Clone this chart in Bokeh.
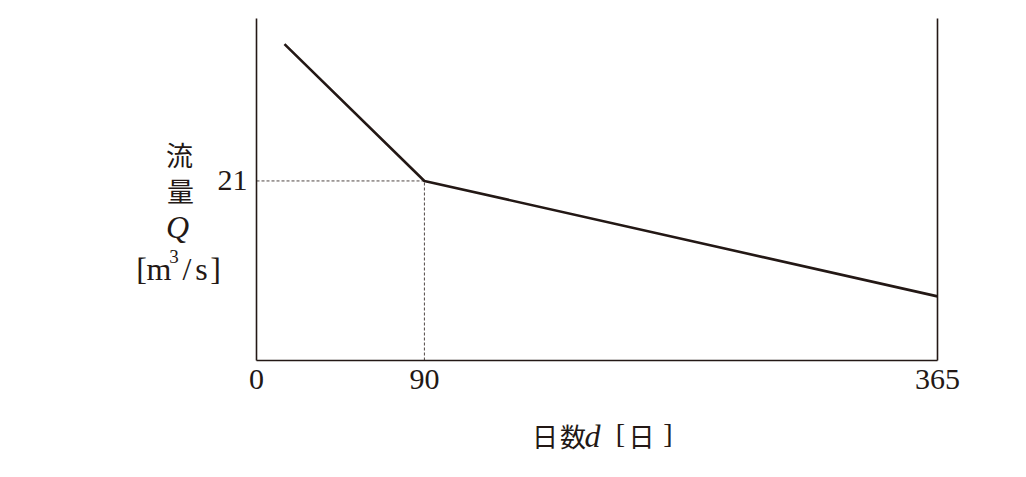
from bokeh.plotting import figure
from bokeh.models import FixedTicker, Label, Range1d, LinearAxis
from bokeh.embed import file_html
from bokeh.resources import INLINE

# data
days = [15, 90, 365]
flow = [37, 21, 7.5]
x_ticks = [0, 90, 365]
y_ticks = [21]
knee_day = 90
knee_flow = 21
x_max = 365
y_max = 40

INK = "#231815"
SERIF = "Liberation Serif"
CJK = "Noto Sans CJK JP"

# layout (page pixels): plot area spans x 256..937, y 18..360
W, H = 1018, 469
L, R, T, B = 256, 937, 18, 360
kx = (R - L) / x_max
ky = (B - T) / y_max

p = figure(width=W, height=H, output_backend="svg", toolbar_location=None,
           x_axis_type=None, y_axis_type=None, min_border=0,
           x_range=Range1d(-L / kx, x_max + (W - R) / kx),
           y_range=Range1d(-(H - B) / ky, y_max + T / ky))
p.outline_line_color = None
p.grid.visible = False
p.background_fill_color = "white"
p.border_fill_color = "white"

xaxis = LinearAxis(fixed_location=0, bounds=(0, x_max), ticker=FixedTicker(ticks=x_ticks))
yaxis = LinearAxis(fixed_location=0, bounds=(0, y_max), ticker=FixedTicker(ticks=y_ticks))
for ax in (xaxis, yaxis):
    ax.axis_line_color = INK
    ax.axis_line_width = 1.6
    ax.major_tick_line_color = None
    ax.minor_tick_line_color = None
    ax.major_label_text_font = SERIF
    ax.major_label_text_font_size = "30px"
    ax.major_label_text_color = INK
xaxis.major_label_standoff = 3
yaxis.major_label_standoff = 3
p.add_layout(xaxis, "below")
p.add_layout(yaxis, "left")

# right border line at 365
p.line([x_max, x_max], [0, y_max], line_color=INK, line_width=1.6)

# dashed guides
p.line([0, knee_day], [knee_flow, knee_flow], line_color=INK, line_width=0.8, line_dash="3 2")
p.line([knee_day, knee_day], [0, knee_flow], line_color=INK, line_width=0.8, line_dash="3 2")

# main curve
p.line(days, flow, line_color=INK, line_width=2.6)

def px2x(px):
    return (px - L) / kx

def px2y(py):
    return (B - py) / ky

def lab(text, px, py, font, size, style="normal"):
    p.add_layout(Label(x=px2x(px), y=px2y(py), text=text, text_font=font,
                       text_font_size=size, text_align="center", text_baseline="middle",
                       text_color=INK, text_font_style=style))

# y-axis label (vertical stack)
lab("流", 179, 154, CJK, "27px")
lab("量", 180, 190, CJK, "27px")
lab("Q", 177, 226, SERIF, "32px", style="italic")
lab("[", 141, 268, SERIF, "32px")
lab("m", 158.5, 268, SERIF, "32px")
lab("3", 173.5, 256, SERIF, "19px")
lab("/", 186.5, 268, SERIF, "32px")
lab("s", 201, 268, SERIF, "32px")
lab("]", 215, 268, SERIF, "32px")

# x-axis label
lab("日", 544.5, 435, CJK, "26px")
lab("数", 572.5, 435, CJK, "26px")
lab("d", 592, 435, SERIF, "32px", style="italic")
lab("[", 620, 432.5, SERIF, "28px")
lab("日", 641, 435, CJK, "26px")
lab("]", 667.5, 432.5, SERIF, "28px")

open("out.html", "w").write(file_html(p, INLINE))
